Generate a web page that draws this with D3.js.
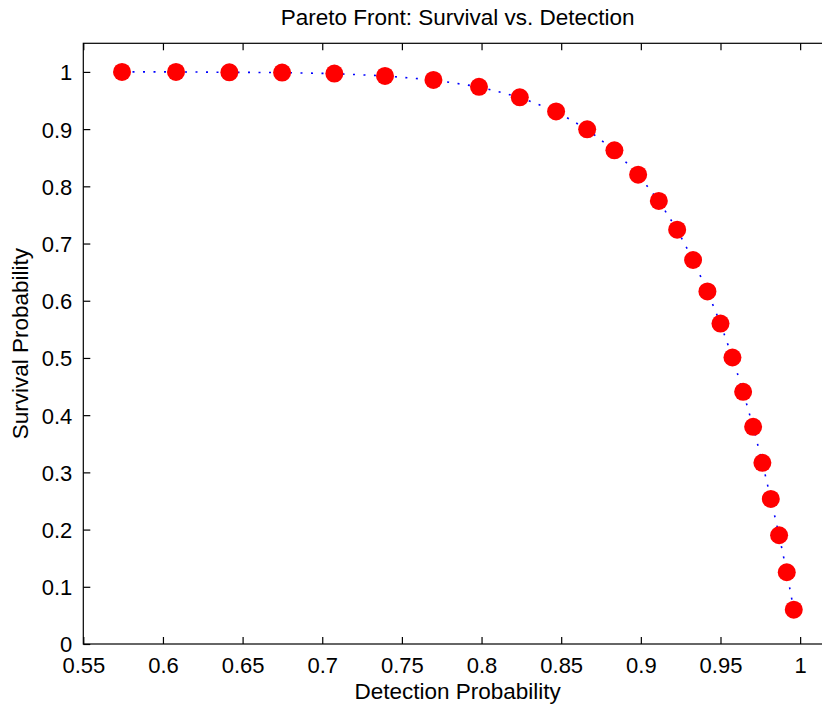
<!DOCTYPE html>
<html>
<head>
<meta charset="utf-8">
<script src="https://cdn.jsdelivr.net/npm/d3@7/dist/d3.min.js"></script>
<style>
  html, body { margin: 0; padding: 0; background: #fff; }
  svg { display: block; }
  text { font-family: "Liberation Sans", Arial, Helvetica, sans-serif; fill: #000; }
</style>
</head>
<body>
<svg id="chart" width="822" height="707"></svg>
<script>
const detection = [0.5743, 0.6082, 0.6417, 0.6748, 0.7076, 0.7394, 0.7698, 0.7984, 0.8240, 0.8468,
  0.8663, 0.8834, 0.8983, 0.9113, 0.9228, 0.9328, 0.9418, 0.9500, 0.9575, 0.9642,
  0.9705, 0.9763, 0.9816, 0.9868, 0.9916, 0.9960];
const survival = [1.000, 1.000, 0.9993, 0.9988, 0.997, 0.993, 0.986, 0.974, 0.9556, 0.931,
  0.8996, 0.8629, 0.8204, 0.7744, 0.7242, 0.6712, 0.6162, 0.5601, 0.5008, 0.4408,
  0.3796, 0.3166, 0.2536, 0.1901, 0.1254, 0.060];
const xTicks = [0.55, 0.6, 0.65, 0.7, 0.75, 0.8, 0.85, 0.9, 0.95, 1];
const yTicks = [0, 0.1, 0.2, 0.3, 0.4, 0.5, 0.6, 0.7, 0.8, 0.9, 1];
const xDomain = [0.55, 1.02];
const yDomain = [0, 1.05];
const titleText = "Pareto Front: Survival vs. Detection";
const xLabel = "Detection Probability";
const yLabel = "Survival Probability";

const svg = d3.select("#chart");
const L = 83.3, T = 43.3, R = 832, B = 644;
const x = d3.scaleLinear().domain(xDomain).range([L, R]);
const y = d3.scaleLinear().domain(yDomain).range([B, T]);
const fmt = d => String(+d.toFixed(2));
const tickLen = 7;

// frame
svg.append("rect").attr("x", L).attr("y", T).attr("width", R - L).attr("height", B - T)
  .attr("fill", "none").attr("stroke", "#000").attr("stroke-width", 1.2);

// bottom axis (inward ticks)
const xb = svg.append("g").attr("transform", `translate(0,${B})`)
  .call(d3.axisBottom(x).tickValues(xTicks).tickFormat(fmt).tickSizeInner(-tickLen).tickSizeOuter(0).tickPadding(13));
const xt = svg.append("g").attr("transform", `translate(0,${T})`)
  .call(d3.axisTop(x).tickValues(xTicks).tickFormat("").tickSizeInner(-tickLen).tickSizeOuter(0));
const yl = svg.append("g").attr("transform", `translate(${L},0)`)
  .call(d3.axisLeft(y).tickValues(yTicks).tickFormat(fmt).tickSizeInner(-tickLen).tickSizeOuter(0).tickPadding(11));
const yr = svg.append("g").attr("transform", `translate(${R},0)`)
  .call(d3.axisRight(y).tickValues(yTicks).tickFormat("").tickSizeInner(-tickLen).tickSizeOuter(0));
[xb, xt, yl, yr].forEach(g => {
  g.select(".domain").remove();
  g.selectAll(".tick line").attr("stroke", "#000").attr("stroke-width", 1.2);
  g.selectAll(".tick text").style("font-size", "22px").attr("fill", "#000");
});
xb.selectAll(".tick text").attr("dy", "0.71em");
yl.selectAll(".tick text").attr("dy", "0.36em");

// dotted line
const line = d3.line().x((d, i) => x(detection[i])).y((d, i) => y(survival[i]));
svg.append("path").datum(detection).attr("d", line)
  .attr("fill", "none").attr("stroke", "#0000ff").attr("stroke-width", 1.6)
  .attr("stroke-dasharray", "2,8.5");

// markers
svg.append("g").selectAll("circle").data(detection).join("circle")
  .attr("cx", (d, i) => x(detection[i])).attr("cy", (d, i) => y(survival[i]))
  .attr("r", 9).attr("fill", "#ff0000");

// title & labels
const cx = (L + R) / 2;
svg.append("text").attr("x", cx).attr("y", 25).attr("text-anchor", "middle")
  .style("font-size", "22.5px").text(titleText);
svg.append("text").attr("x", cx).attr("y", 699).attr("text-anchor", "middle")
  .style("font-size", "22.5px").text(xLabel);
svg.append("text").attr("transform", `translate(28,${(T + B) / 2}) rotate(-90)`)
  .attr("text-anchor", "middle").style("font-size", "22.5px").text(yLabel);
</script>
</body>
</html>
